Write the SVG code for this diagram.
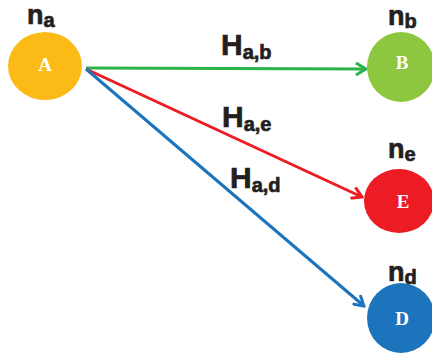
<svg xmlns="http://www.w3.org/2000/svg" width="432" height="358" viewBox="0 0 432 358">
  <style>
    .lbl { font-family: "Liberation Sans", Arial, sans-serif; font-weight: bold; fill: #231f20; stroke: #231f20; stroke-width: 0.7; }
    .main { font-size: 30px; }
    .nmain { font-size: 27px; }
    .sub { font-size: 20px; }
    .node-text { font-family: "Liberation Serif", "Times New Roman", serif; font-weight: bold; font-size: 19px; fill: #ffffff; text-anchor: middle; }
    .edge { fill: none; stroke-width: 3; }
  </style>
  <defs>
    <marker id="arrow-green" viewBox="0 0 14 14" refX="12" refY="7" markerWidth="14" markerHeight="14" markerUnits="userSpaceOnUse" orient="auto">
      <polyline points="2,1 12,7 2,13" fill="none" stroke="#2bb34a" stroke-width="3" stroke-linejoin="miter"/>
    </marker>
    <marker id="arrow-red" viewBox="0 0 14 14" refX="12" refY="7" markerWidth="14" markerHeight="14" markerUnits="userSpaceOnUse" orient="auto">
      <polyline points="2,1 12,7 2,13" fill="none" stroke="#ed1c24" stroke-width="3" stroke-linejoin="miter"/>
    </marker>
    <marker id="arrow-blue" viewBox="0 0 14 14" refX="12" refY="7" markerWidth="14" markerHeight="14" markerUnits="userSpaceOnUse" orient="auto">
      <polyline points="2,1 12,7 2,13" fill="none" stroke="#1c75bc" stroke-width="3" stroke-linejoin="miter"/>
    </marker>
  </defs>

  <!-- connectors -->
  <g id="connectors">
    <line class="edge" x1="86" y1="68" x2="366" y2="69" stroke="#2bb34a" marker-end="url(#arrow-green)"/>
    <line class="edge" x1="86" y1="69" x2="362" y2="197" stroke="#ed1c24" marker-end="url(#arrow-red)"/>
    <line class="edge" x1="86" y1="69" x2="364" y2="306" stroke="#1c75bc" marker-end="url(#arrow-blue)"/>
    <text class="lbl" x="221" y="55"><tspan class="main">H</tspan><tspan class="sub" dy="4">a,b</tspan></text>
    <text class="lbl" x="222" y="127"><tspan class="main">H</tspan><tspan class="sub" dy="4">a,e</tspan></text>
    <text class="lbl" x="230" y="188"><tspan class="main">H</tspan><tspan class="sub" dy="4">a,d</tspan></text>
  </g>

  <!-- nodes -->
  <g id="node-a">
    <ellipse cx="45" cy="66" rx="37" ry="34" fill="#fbba16"/>
    <text class="node-text" x="45" y="71">A</text>
    <text class="lbl" x="27" y="24"><tspan class="nmain">n</tspan><tspan class="sub" dy="3">a</tspan></text>
  </g>
  <g id="node-b">
    <ellipse cx="401" cy="67" rx="34" ry="35" fill="#8dc63f"/>
    <text class="node-text" x="402" y="69">B</text>
    <text class="lbl" x="388" y="25"><tspan class="nmain">n</tspan><tspan class="sub" dy="3">b</tspan></text>
  </g>
  <g id="node-e">
    <ellipse cx="399" cy="201" rx="35" ry="32" fill="#ed1c24"/>
    <text class="node-text" x="403" y="208">E</text>
    <text class="lbl" x="388" y="158"><tspan class="nmain">n</tspan><tspan class="sub" dy="3">e</tspan></text>
  </g>
  <g id="node-d">
    <ellipse cx="401" cy="318" rx="34" ry="35" fill="#1c75bc"/>
    <text class="node-text" x="402" y="325">D</text>
    <text class="lbl" x="388" y="281"><tspan class="nmain">n</tspan><tspan class="sub" dy="3">d</tspan></text>
  </g>
</svg>
